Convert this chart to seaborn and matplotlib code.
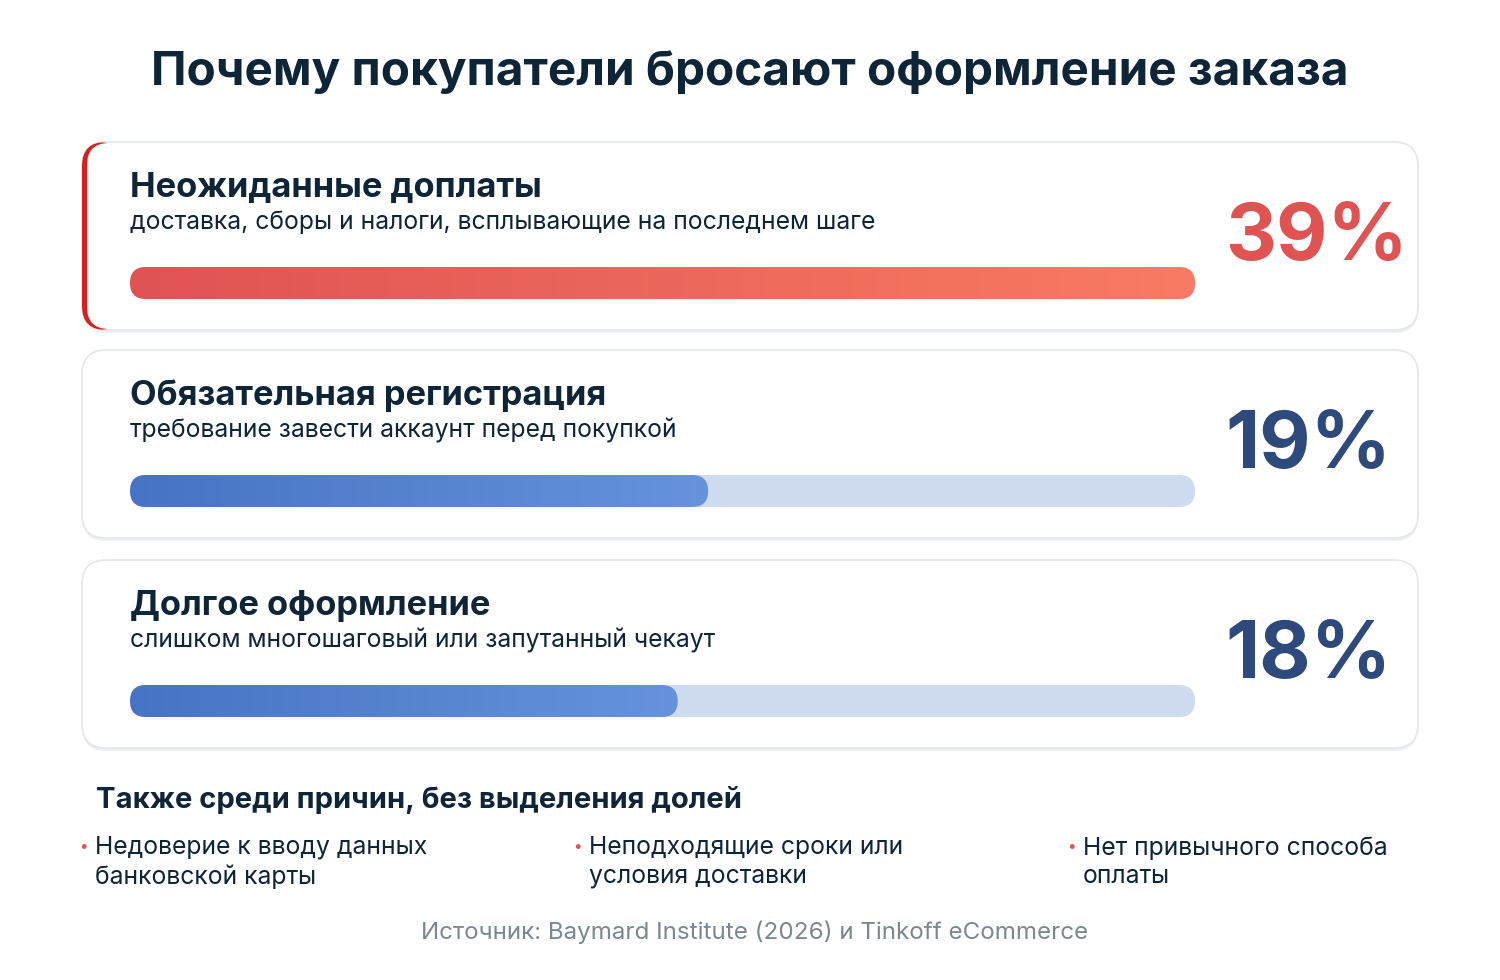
import matplotlib
matplotlib.use("Agg")
import matplotlib.pyplot as plt
import seaborn as sns
import numpy as np
import pandas as pd
from matplotlib.patches import FancyBboxPatch
from matplotlib.colors import LinearSegmentedColormap

title = "Почему покупатели бросают оформление заказа"
reasons = ["Неожиданные доплаты", "Обязательная регистрация", "Долгое оформление"]
details = ["доставка, сборы и налоги, всплывающие на последнем шаге",
           "требование завести аккаунт перед покупкой",
           "слишком многошаговый или запутанный чекаут"]
shares = [39, 19, 18]
track_max = 35
other_heading = "Также среди причин, без выделения долей"
other_reasons = ["Недоверие к вводу данных\nбанковской карты",
                 "Неподходящие сроки или\nусловия доставки",
                 "Нет привычного способа\nоплаты"]
source = "Источник: Baymard Institute (2026) и Tinkoff eCommerce"

sns.set_theme(style="white")
plt.rcParams['font.family'] = ['Inter', 'DejaVu Sans']

W, H = 1500, 980
fig = plt.figure(figsize=(15, 9.8), dpi=100)
fig.patch.set_facecolor("white")
bg = fig.add_axes([0, 0, 1, 1])
bg.set_xlim(0, W); bg.set_ylim(H, 0); bg.axis("off")

NAVY = "#0E2437"
bg.text(750, 73, title, ha="center", va="center", fontsize=34.3, fontweight="bold", color=NAVY)

card_tops = [142, 350, 560]
card_h = 188
red_cmap = LinearSegmentedColormap.from_list("r", ["#E05353", "#F97B63"])
blue_cmap = LinearSegmentedColormap.from_list("b", ["#4773C5", "#6693DC"])
for i, (name, det, val) in enumerate(zip(reasons, details, shares)):
    top = card_tops[i]
    bg.add_patch(FancyBboxPatch((82, top + 3), 1336, card_h, boxstyle="round,pad=0,rounding_size=24",
                                facecolor="#EDEFF2", edgecolor="none", zorder=1))
    bg.add_patch(FancyBboxPatch((82, top), 1336, card_h, boxstyle="round,pad=0,rounding_size=24",
                                facecolor="white", edgecolor="#E4E7EB", lw=1.2, zorder=2))
    if i == 0:
        bg.add_patch(FancyBboxPatch((82, top), 40, card_h, boxstyle="round,pad=0,rounding_size=24",
                                    facecolor="#D81E1E", edgecolor="none", zorder=2.5))
        bg.add_patch(FancyBboxPatch((87, top + 1), 60, card_h - 2, boxstyle="round,pad=0,rounding_size=22",
                                    facecolor="white", edgecolor="none", zorder=2.6))
    bg.text(130, top + 46, name, fontsize=24.8, fontweight="bold", color=NAVY, va="center", zorder=3)
    bg.text(130, top + 80, det, fontsize=17.8, color=NAVY, va="center", zorder=3)
    pcol = "#E05353" if i == 0 else "#2E4A7C"
    bg.text(1225, top + 97, f"{val}%", fontsize=57, fontweight="bold", color=pcol,
            ha="left", va="center", zorder=3)

    bar_top = top + 125
    ax = fig.add_axes([130 / W, 1 - (bar_top + 32) / H, 1065 / W, 32 / H])
    ax.set_zorder(5)
    df = pd.DataFrame({"cat": ["track", "value"],
                       "val": [track_max, min(val, track_max)]})
    for j, row in df.iterrows():
        sns.barplot(x=[row["val"]], y=[0], orient="h", width=1, ax=ax,
                    color="#CEDBF0", native_scale=True)
    ax.set_xlim(0, track_max); ax.set_ylim(0.5, -0.5); ax.axis("off")
    asp = (1 / 32) / (track_max / 1065)
    r = 16 * track_max / 1065
    patches = list(ax.patches)
    for k, p in enumerate(patches):
        x, y, w, h = p.get_x(), p.get_y(), p.get_width(), p.get_height()
        p.set_visible(False)
        fb = FancyBboxPatch((x, y), w, h, boxstyle=f"round,pad=0,rounding_size={r}",
                            mutation_aspect=asp, facecolor="#CEDBF0", edgecolor="none")
        ax.add_patch(fb)
        if k == 1:
            fb.set_facecolor("none")
            grad = np.linspace(0, 1, 256).reshape(1, -1)
            im = ax.imshow(grad, extent=(x, x + w, y + h, y), aspect="auto",
                           cmap=red_cmap if i == 0 else blue_cmap, zorder=3)
            im.set_clip_path(fb)
    ax.set_xlim(0, track_max); ax.set_ylim(0.5, -0.5)

bg.text(96, 800, other_heading, fontsize=21, fontweight="bold", color=NAVY, va="center")
for k, txt in enumerate(other_reasons):
    x0 = 95 + k * 494
    bg.text(x0 - 12, 846, "•", fontsize=11, color="#E05353", va="center", ha="center")
    bg.text(x0, 862, txt, fontsize=17.8, color=NAVY, va="center", linespacing=1.3)

bg.text(755, 932, source, fontsize=17.4, color="#7C8790", ha="center", va="center")

fig.savefig("out.png", dpi=100, facecolor="white")
